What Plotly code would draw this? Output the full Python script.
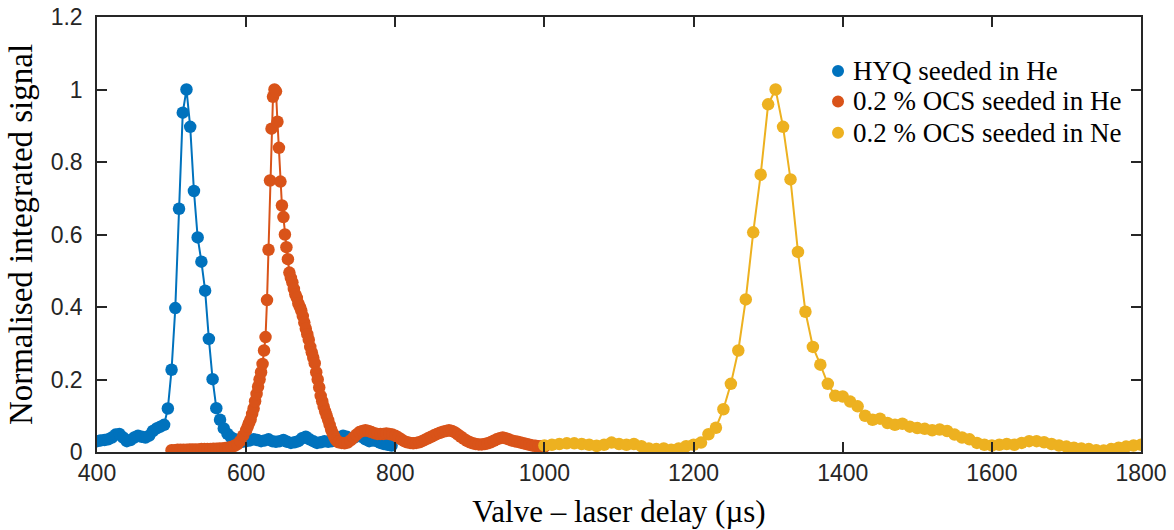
import plotly.graph_objects as go

# ---------------- data ----------------
hyq_x = list(range(400, 800, 5))
hyq_y = [0.030, 0.032, 0.033, 0.035, 0.040, 0.048, 0.050, 0.040, 0.030, 0.033,
         0.040, 0.045, 0.042, 0.040, 0.045, 0.058, 0.065, 0.070, 0.075, 0.120,
         0.227, 0.397, 0.671, 0.936, 1.000, 0.897, 0.720, 0.592, 0.525, 0.445,
         0.312, 0.201, 0.121, 0.089, 0.065, 0.050, 0.040, 0.035, 0.030, 0.028,
         0.030, 0.032, 0.035, 0.033, 0.030, 0.032, 0.035, 0.030, 0.028, 0.030,
         0.033, 0.028, 0.025, 0.027, 0.030, 0.038, 0.042, 0.035, 0.030, 0.025,
         0.027, 0.030, 0.028, 0.030, 0.035, 0.040, 0.045, 0.042, 0.038, 0.040,
         0.045, 0.042, 0.035, 0.030, 0.032, 0.030, 0.025, 0.022, 0.020, 0.018]

ocs_he_x = list(range(500, 600, 4)) + list(range(600, 724, 2)) + list(range(724, 1001, 4))
ocs_he_y = [0.005, 0.005, 0.006, 0.006, 0.006, 0.006, 0.007, 0.007, 0.007, 0.007,
            0.008, 0.008, 0.008, 0.008, 0.009, 0.009, 0.010, 0.010, 0.011, 0.012,
            0.014, 0.017, 0.021, 0.030, 0.045,
            # 600 .. 722 (step 2)
            0.060, 0.070, 0.080, 0.090, 0.105, 0.120, 0.140, 0.160, 0.180, 0.200,
            0.220, 0.243, 0.280, 0.317, 0.419, 0.558, 0.749, 0.892, 0.980, 1.000,
            0.995, 0.911, 0.839, 0.746, 0.680, 0.648, 0.600, 0.565, 0.532, 0.495,
            0.480, 0.468, 0.450, 0.435, 0.425, 0.410, 0.400, 0.390, 0.375, 0.357,
            0.340, 0.325, 0.310, 0.290, 0.275, 0.260, 0.245, 0.220, 0.200, 0.178,
            0.155, 0.140, 0.125, 0.112, 0.100, 0.088, 0.075, 0.062, 0.052, 0.043,
            0.035, 0.030,
            # 724 .. 1000 (step 4)
            0.027, 0.025, 0.024, 0.026, 0.032, 0.040, 0.048, 0.055, 0.058, 0.060,
            0.058, 0.055, 0.052, 0.050, 0.050, 0.050, 0.051, 0.050, 0.048, 0.045,
            0.040, 0.035, 0.030, 0.027, 0.025, 0.024, 0.025, 0.027, 0.030, 0.034,
            0.038, 0.042, 0.046, 0.050, 0.053, 0.056, 0.058, 0.060, 0.058, 0.054,
            0.048, 0.042, 0.036, 0.031, 0.027, 0.024, 0.022, 0.021, 0.021, 0.022,
            0.024, 0.027, 0.031, 0.035, 0.038, 0.040, 0.038, 0.035, 0.032, 0.030,
            0.028, 0.026, 0.024, 0.022, 0.020, 0.018, 0.017, 0.016, 0.016, 0.015]

ocs_ne_x = list(range(1000, 1801, 10))
ocs_ne_y = [0.018, 0.020, 0.022, 0.024, 0.024, 0.022, 0.020, 0.017, 0.020, 0.026,
            0.022, 0.020, 0.022, 0.016, 0.010, 0.008, 0.010, 0.006, 0.010, 0.016,
            0.020, 0.026, 0.049, 0.067, 0.118, 0.188, 0.280, 0.421, 0.606, 0.765,
            0.959, 1.000, 0.897, 0.752, 0.552, 0.387, 0.290, 0.241, 0.188, 0.155,
            0.153, 0.139, 0.126, 0.100, 0.089, 0.092, 0.080, 0.075, 0.078, 0.070,
            0.066, 0.064, 0.060, 0.062, 0.058, 0.048, 0.040, 0.035, 0.025, 0.020,
            0.018, 0.020, 0.022, 0.020, 0.025, 0.030, 0.030, 0.027, 0.022, 0.018,
            0.015, 0.012, 0.010, 0.008, 0.005, 0.004, 0.008, 0.012, 0.015, 0.018,
            0.020]

series_names = ["HYQ seeded in He", "0.2 % OCS seeded in He", "0.2 % OCS seeded in Ne"]
series_colors = ["#0072BD", "#D95319", "#EDB120"]

x_ticks = [400, 600, 800, 1000, 1200, 1400, 1600, 1800]
y_ticks = [0, 0.2, 0.4, 0.6, 0.8, 1, 1.2]
y_tick_text = ["0", "0.2", "0.4", "0.6", "0.8", "1", "1.2"]

SERIF = "Liberation Serif"
SANS = "Liberation Sans"

# ---------------- figure ----------------
fig = go.Figure()
data = [(hyq_x, hyq_y), (ocs_he_x, ocs_he_y), (ocs_ne_x, ocs_ne_y)]
for (xs, ys), name, col in zip(data, series_names, series_colors):
    fig.add_trace(go.Scatter(
        x=xs, y=ys, mode="lines+markers", name=name, showlegend=False,
        line=dict(color=col, width=2),
        marker=dict(color=col, size=12.5, line=dict(width=0)),
    ))

# legend drawn as shapes + annotations (tight MATLAB-style legend)
leg_x = 0.7098
leg_ys = [0.876, 0.806, 0.734]
for name, col, ly in zip(series_names, series_colors, leg_ys):
    fig.add_shape(type="circle", xref="paper", yref="paper",
                  xsizemode="pixel", ysizemode="pixel",
                  xanchor=leg_x, yanchor=ly, x0=-6, x1=6, y0=-6, y1=6,
                  fillcolor=col, line=dict(width=0))
    fig.add_annotation(text=name, xref="paper", yref="paper",
                       x=leg_x + 0.012, y=ly, xanchor="left", yanchor="middle",
                       showarrow=False,
                       font=dict(family=SERIF, size=27, color="black"))

axis_common = dict(
    showline=True, linecolor="#262626", linewidth=1.5, mirror="ticks",
    ticks="inside", ticklen=10, tickwidth=1.5, tickcolor="#262626",
    showgrid=False, zeroline=False, automargin=False,
    tickfont=dict(family=SANS, size=23, color="#262626"),
)

fig.update_xaxes(
    range=[400, 1800], tickvals=x_ticks,
    title=dict(text="Valve – laser delay (µs)",
               font=dict(family=SERIF, size=31, color="black"),
               standoff=15),
    **axis_common,
)
fig.update_yaxes(
    range=[0, 1.2], tickvals=y_ticks, ticktext=y_tick_text,
    ticklabelstandoff=8,
    title=dict(text="Normalised integrated signal",
               font=dict(family=SERIF, size=33, color="black"),
               standoff=8),
    **axis_common,
)

fig.update_layout(
    width=1174, height=530,
    margin=dict(l=97, r=33, t=17, b=78),
    plot_bgcolor="white", paper_bgcolor="white",
    showlegend=False,
)

fig.write_html("out.html")
